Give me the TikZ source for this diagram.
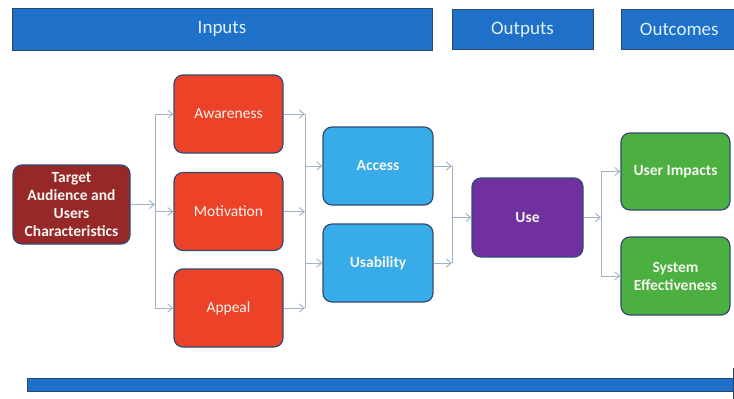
\documentclass[tikz,border=0pt]{standalone}
\usepackage{fontspec}
\setmainfont{Carlito}
\usetikzlibrary{arrows.meta}
\definecolor{hdrblue}{RGB}{30,112,200}
\definecolor{hdrborder}{RGB}{40,70,110}
\definecolor{hdrtext}{RGB}{225,240,250}
\definecolor{tgtred}{RGB}{150,40,40}
\definecolor{boxred}{RGB}{236,66,40}
\definecolor{boxblue}{RGB}{56,172,232}
\definecolor{boxpurple}{RGB}{112,48,160}
\definecolor{boxgreen}{RGB}{76,176,64}
\definecolor{edgeblue}{RGB}{50,75,115}
\definecolor{conn}{RGB}{160,178,198}
\definecolor{cardtext}{RGB}{245,245,240}
\tikzset{
  hdr/.style={draw=hdrborder, line width=0.6pt, fill=hdrblue, text=hdrtext, font=\fontsize{19}{22}\selectfont},
  card/.style={draw=edgeblue, line width=1.2pt, rounded corners=9pt, text=cardtext, align=center,
    font=\fontsize{15.5}{18}\selectfont\bfseries, inner sep=1pt},
  redcard/.style={card, fill=boxred, minimum width=109pt, minimum height=78pt,
    font=\fontsize{15.5}{18}\selectfont},
  bluecard/.style={card, fill=boxblue, minimum width=110pt, minimum height=78pt},
  greencard/.style={card, fill=boxgreen, minimum width=109pt, minimum height=77pt},
  link/.style={draw=conn, line width=0.9pt},
  arr/.style={link, -{Straight Barb[length=5pt,width=8pt]}},
}
\begin{document}
\begin{tikzpicture}[x=1pt,y=-1pt]
\useasboundingbox (0,0) rectangle (734,399);
\fill[white] (0,0) rectangle (734,399);

% headers
\node[hdr, minimum width=420pt, minimum height=42pt] (hin) at (222,29) {Inputs};
\node[hdr, minimum width=141pt, minimum height=40pt] (hout) at (522.5,29.5) {Outputs};
\node[hdr, minimum width=126pt, minimum height=40pt, anchor=west] (hoc) at (621,29.5) {\hspace*{-10pt}Outcomes};

% boxes
\node[card, fill=tgtred, minimum width=117pt, minimum height=79pt] (tgt) at (71.5,204.5)
  {Target\\Audience and\\Users\\Characteristics};
\node[redcard] (aw) at (228.5,114) {Awareness};
\node[redcard] (mo) at (228.5,211.5) {Motivation};
\node[redcard] (ap) at (228.5,308) {Appeal};
\node[bluecard] (acc) at (378,166) {Access};
\node[bluecard] (usa) at (378,263) {Usability};
\node[card, fill=boxpurple, minimum width=111pt, minimum height=79pt] (use) at (527.5,217.5) {Use};
\node[greencard] (ui) at (675.5,171.5) {User Impacts};
\node[greencard, minimum height=78pt] (se) at (675.5,276) {System\\Effectiveness};

% branch 1
\coordinate (j1a) at (155,114);
\coordinate (j1b) at (155,308);
\coordinate (j1m) at (155,204.5);
\coordinate (j1t) at (155,211.5);
\draw[link] (j1a) -- (j1b);
\draw[arr] (tgt.east) -- (j1m);
\draw[arr] (j1a) -- (aw.west);
\draw[arr] (j1t) -- (mo.west);
\draw[arr] (j1b) -- (ap.west);

% branch 2
\coordinate (j2a) at (305,114);
\coordinate (j2b) at (305,211.5);
\coordinate (j2c) at (305,308);
\coordinate (j2acc) at (305,166);
\coordinate (j2usa) at (305,263);
\draw[link] (j2a) -- (j2c);
\draw[arr] (aw.east) -- (j2a);
\draw[arr] (mo.east) -- (j2b);
\draw[arr] (ap.east) -- (j2c);
\draw[arr] (j2acc) -- (acc.west);
\draw[arr] (j2usa) -- (usa.west);

% branch 3
\coordinate (j3a) at (452,166);
\coordinate (j3b) at (452,263);
\coordinate (j3m) at (452,217.5);
\draw[link] (j3a) -- (j3b);
\draw[arr] (acc.east) -- (j3a);
\draw[arr] (usa.east) -- (j3b);
\draw[arr] (j3m) -- (use.west);

% branch 4
\coordinate (j4a) at (601,171.5);
\coordinate (j4b) at (601,276);
\coordinate (j4m) at (601,217.5);
\draw[link] (j4a) -- (j4b);
\draw[arr] (use.east) -- (j4m);
\draw[arr] (j4a) -- (ui.west);
\draw[arr] (j4b) -- (se.west);

% bottom bar
\fill[hdrblue, draw=hdrborder, line width=0.5pt] (27,378) rectangle (733,391);
\draw[hdrborder, line width=0.8pt] (733,368) -- (733,399);
\end{tikzpicture}
\end{document}
